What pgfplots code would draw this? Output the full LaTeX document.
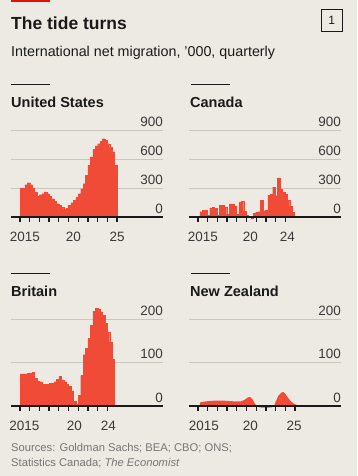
\documentclass[border=0pt]{standalone}
\usepackage{pgfplots}
\pgfplotsset{compat=1.18}
\usepackage{fontspec}
\setmainfont{Liberation Sans}
\definecolor{bg}{HTML}{ECEAE2}
\definecolor{econred}{HTML}{E3120B}
\definecolor{barc}{HTML}{EF4B36}
\definecolor{gridc}{HTML}{C8C6BE}
\definecolor{txt}{HTML}{1A1A1A}
\definecolor{tickc}{HTML}{3A3A3A}
\definecolor{srcc}{HTML}{767676}

\tikzset{yt/.style={draw=txt, line width=1.3pt}}
\pgfplotsset{
  panel/.style={
    scale only axis, width=152pt,
    xmin=2014.07, xmax=2029.74, ymin=0,
    clip=false,
    axis x line*=bottom, axis y line*=right,
    y axis line style={draw=none},
    x axis line style={draw=txt, line width=1.1pt},
    major tick length=0pt,
    x tick label style={font=\fontsize{13.5}{14}\selectfont, text=tickc, anchor=north, inner sep=0pt, yshift=-14.5pt},
    y tick label style={font=\fontsize{13.5}{14}\selectfont, text=tickc, anchor=south east, inner sep=0pt, yshift=3.2pt},
    /pgf/number format/assume math mode=true,
    ymajorgrids, grid style={draw=gridc, line width=0.7pt},
    anchor=south west,
  },
  bars/.style={ybar interval, fill=barc, draw=barc, line width=0.2pt},
}

\begin{document}
\begin{tikzpicture}[x=1pt,y=1pt]
\fill[bg] (0,0) rectangle (357,-476);
\useasboundingbox (0,0) rectangle (357,-476);
\fill[econred] (11,0) rectangle (50,-2);
\node[anchor=base west, inner sep=0, text=txt, font=\fontsize{17.5}{20}\selectfont\bfseries] at (11,-30) {The tide turns};
\draw[txt, line width=0.9pt] (321,-9.5) rectangle (342.5,-31.5);
\node[font=\fontsize{12}{14}\selectfont, text=txt] at (331.75,-20.5) {1};
\node[anchor=base west, inner sep=0, text=txt, font=\fontsize{14.3}{16}\selectfont] at (11,-57) {International net migration, '000, quarterly};

\draw[txt, line width=1pt] (11,-85) -- (50,-85);
\draw[txt, line width=1pt] (191,-85) -- (230,-85);
\draw[txt, line width=1pt] (11,-273) -- (50,-273);
\draw[txt, line width=1pt] (191,-273) -- (230,-273);

\node[anchor=base west, inner sep=0, text=txt, font=\fontsize{14.5}{16}\selectfont\bfseries] at (11,-108) {United States};
\node[anchor=base west, inner sep=0, text=txt, font=\fontsize{14.5}{16}\selectfont\bfseries] at (190,-108) {Canada};
\node[anchor=base west, inner sep=0, text=txt, font=\fontsize{14.5}{16}\selectfont\bfseries] at (11,-296) {Britain};
\node[anchor=base west, inner sep=0, text=txt, font=\fontsize{14.5}{16}\selectfont\bfseries] at (190,-296) {New Zealand};

% United States
\begin{axis}[panel, at={(11pt,-217pt)}, ymax=900, height=87pt,
  ytick={0,300,600,900},
  xtick={2015.5,2020.5,2025}, xticklabels={2015,20,25}]
\addplot[bars] coordinates {
(2015.00,300)(2015.25,300)(2015.50,335)(2015.75,355)
(2016.00,335)(2016.25,300)(2016.50,259)(2016.75,217)
(2017.00,231)(2017.25,241)(2017.50,259)(2017.75,241)
(2018.00,217)(2018.25,190)(2018.50,162)(2018.75,138)
(2019.00,121)(2019.25,103)(2019.50,86)(2019.75,93)
(2020.00,121)(2020.25,148)(2020.50,172)(2020.75,207)
(2021.00,241)(2021.25,293)(2021.50,345)(2021.75,431)
(2022.00,535)(2022.25,621)(2022.50,700)(2022.75,735)
(2023.00,759)(2023.25,783)(2023.50,811)(2023.75,793)
(2024.00,759)(2024.25,724)(2024.50,673)(2024.75,535)
(2025.00,535)};
\foreach \yr in {2015,2016,2017,2018,2019,2020,2021,2022,2023,2024,2025}{
  \edef\tmp{\noexpand\draw[yt] (axis cs:\yr,0) -- (axis cs:\yr,-52);}\tmp}
\draw[txt, line width=1.1pt] (axis cs:2014.07,0) -- (axis cs:2029.74,0);
\end{axis}

% Canada
\begin{axis}[panel, at={(189pt,-217pt)}, ymax=900, height=87pt,
  ytick={0,300,600,900},
  xtick={2015.5,2020.4,2024.2}, xticklabels={2015,20,24}]
\addplot[bars] coordinates {
(2015.20,55)(2015.45,70)(2015.70,75)(2015.95,15)
(2016.20,95)(2016.45,100)(2016.70,90)(2016.95,20)
(2017.20,120)(2017.45,120)(2017.70,105)(2017.95,25)
(2018.20,135)(2018.45,135)(2018.70,115)(2018.95,30)
(2019.20,150)(2019.45,160)(2019.70,60)(2019.95,20)
(2020.20,5)(2020.45,-15)(2020.70,40)(2020.95,50)
(2021.20,55)(2021.45,170)(2021.70,65)(2021.95,75)
(2022.20,225)(2022.45,235)(2022.70,310)(2022.95,220)
(2023.20,405)(2023.45,285)(2023.70,255)(2023.95,240)
(2024.20,170)(2024.45,110)(2024.70,50)(2024.95,50)};
\foreach \yr in {2015,2016,2017,2018,2019,2020,2021,2022,2023,2024}{
  \edef\tmp{\noexpand\draw[yt] (axis cs:\yr,0) -- (axis cs:\yr,-52);}\tmp}
\draw[txt, line width=1.1pt] (axis cs:2014.07,0) -- (axis cs:2029.74,0);
\end{axis}

% Britain
\begin{axis}[panel, at={(11pt,-406pt)}, ymax=235, height=102.2pt,
  ytick={0,100,200},
  xtick={2015.45,2020.6,2024.1}, xticklabels={2015,20,24}]
\addplot[bars] coordinates {
(2015.00,74)(2015.25,74)(2015.50,74)(2015.75,75)
(2016.00,76)(2016.25,78)(2016.50,64)(2016.75,58)
(2017.00,56)(2017.25,50)(2017.50,50)(2017.75,50)
(2018.00,52)(2018.25,52)(2018.50,56)(2018.75,62)
(2019.00,68)(2019.25,60)(2019.50,56)(2019.75,50)
(2020.00,45)(2020.25,35)(2020.50,12)(2020.75,5)
(2021.00,25)(2021.25,70)(2021.50,118)(2021.75,132)
(2022.00,155)(2022.25,185)(2022.50,218)(2022.75,225)
(2023.00,223)(2023.25,217)(2023.50,208)(2023.75,190)
(2024.00,170)(2024.25,147)(2024.50,108)(2024.75,108)};
\foreach \yr in {2015,2016,2017,2018,2019,2020,2021,2022,2023,2024}{
  \edef\tmp{\noexpand\draw[yt] (axis cs:\yr,0) -- (axis cs:\yr,-11.5);}\tmp}
\draw[txt, line width=1.1pt] (axis cs:2014.07,0) -- (axis cs:2029.74,0);
\end{axis}

% New Zealand
\begin{axis}[panel, at={(189pt,-406pt)}, ymax=235, height=102.2pt,
  ytick={0,100,200},
  xtick={2015.6,2020.4,2024.9}, xticklabels={2015,20,25}]
\addplot[fill=barc, draw=none] coordinates {
(2015.2,0)(2015.2,8)(2015.6,10)(2016.2,11.5)(2016.8,12.5)(2017.5,12.5)
(2018.2,11.5)(2018.8,10.5)(2019.4,10.5)(2019.8,14)(2020.1,19)(2020.35,21)
(2020.6,16)(2020.85,6)(2021.05,0)(2021.3,-3)(2021.7,-4)(2022.2,-4)
(2022.6,-3)(2022.85,0)(2023.0,10)(2023.3,24)(2023.6,31)(2023.8,32)
(2024.0,28)(2024.3,18)(2024.6,10)(2024.9,5)(2025.15,3)(2025.2,0)} -- cycle;
\foreach \yr in {2015,2016,2017,2018,2019,2020,2021,2022,2023,2024,2025}{
  \edef\tmp{\noexpand\draw[yt] (axis cs:\yr,0) -- (axis cs:\yr,-11.5);}\tmp}
\draw[txt, line width=1.1pt] (axis cs:2014.07,0) -- (axis cs:2029.74,0);
\end{axis}

\node[anchor=base west, inner sep=0, text=srcc, font=\fontsize{11.2}{13}\selectfont] at (11,-451.7) {Sources: Goldman Sachs; BEA; CBO; ONS;};
\node[anchor=base west, inner sep=0, text=srcc, font=\fontsize{11.2}{13}\selectfont] at (11,-466.7) {Statistics Canada; \textit{The Economist}};
\end{tikzpicture}
\end{document}
